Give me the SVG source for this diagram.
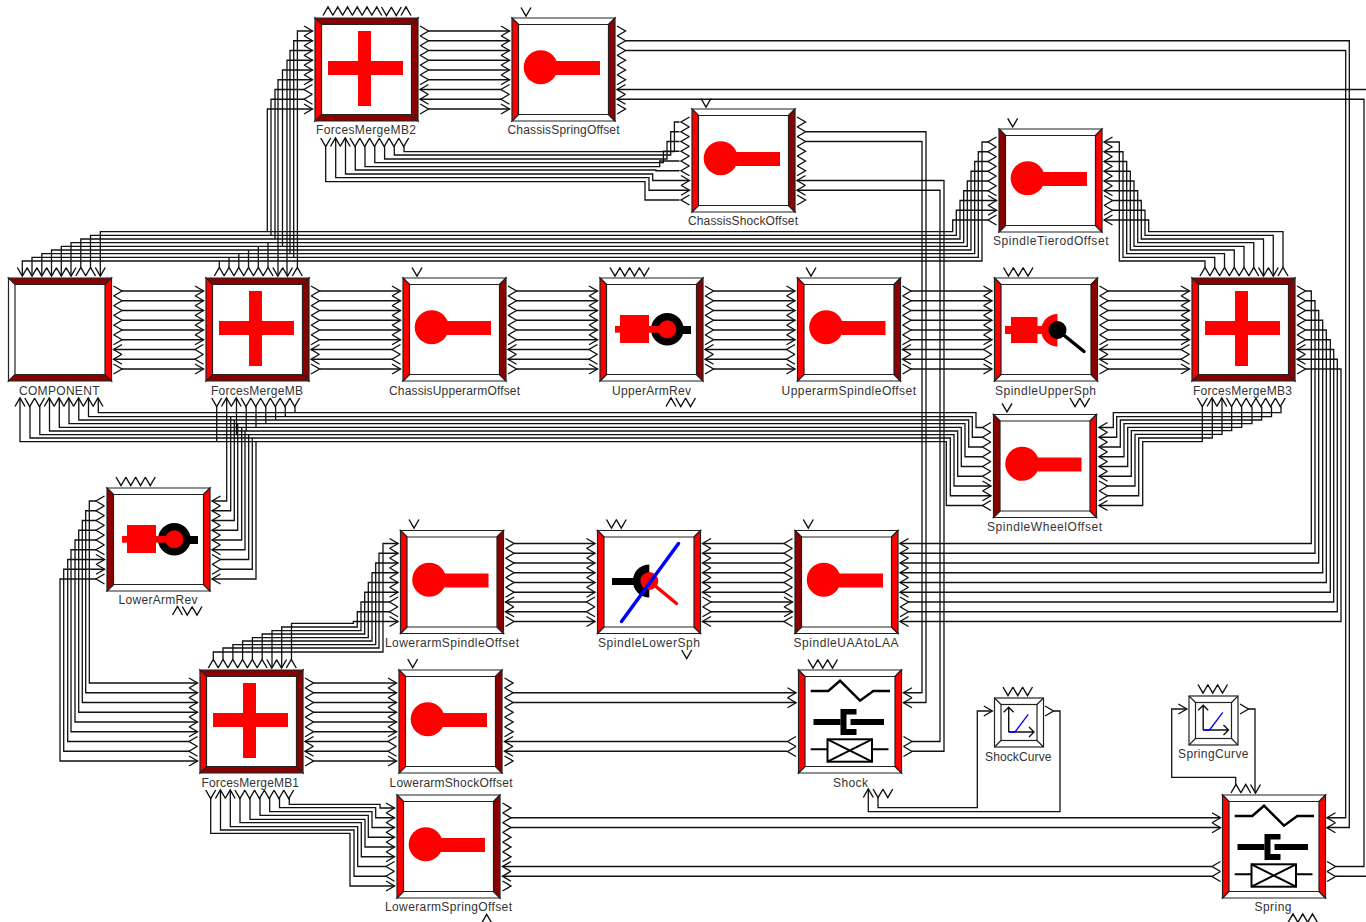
<svg xmlns="http://www.w3.org/2000/svg" xmlns:xlink="http://www.w3.org/1999/xlink" width="1366" height="922" viewBox="0 0 1366 922">
<style>
.w{fill:none;stroke:#111;stroke-width:1.3}
.c{fill:none;stroke:#111;stroke-width:1.4}
.o{stroke:#222;stroke-width:1.2;stroke-linejoin:miter}
.t{font-family:"Liberation Sans",Arial,sans-serif;font-size:12px;fill:#333}
.r{fill:#f00}
.k{fill:#000}
</style>
<defs>
<polygon id="bT" class="o" points="0,0 103,0 96.5,6.5 6.5,6.5"/>
<polygon id="bB" class="o" points="0,103 103,103 96.5,96.5 6.5,96.5"/>
<polygon id="bL" class="o" points="0,0 6.5,6.5 6.5,96.5 0,103"/>
<polygon id="bR" class="o" points="103,0 96.5,6.5 96.5,96.5 103,103"/>
<g id="F1"><rect width="103" height="103" fill="#fff"/><use href="#bT" fill="#8b0000"/><use href="#bB" fill="#8b0000"/><use href="#bL" fill="#f00"/><use href="#bR" fill="#8b0000"/></g>
<g id="F2"><rect width="103" height="103" fill="#fff"/><use href="#bT" fill="#8b0000"/><use href="#bB" fill="#8b0000"/><use href="#bL" fill="#fff"/><use href="#bR" fill="#f00"/></g>
<g id="O1"><rect width="103" height="103" fill="#fff"/><use href="#bT" fill="#fff"/><use href="#bB" fill="#fff"/><use href="#bL" fill="#f00"/><use href="#bR" fill="#8b0000"/></g>
<g id="O2"><rect width="103" height="103" fill="#fff"/><use href="#bT" fill="#fff"/><use href="#bB" fill="#fff"/><use href="#bL" fill="#8b0000"/><use href="#bR" fill="#f00"/></g>
<g id="O3"><rect width="103" height="103" fill="#fff"/><use href="#bT" fill="#fff"/><use href="#bB" fill="#fff"/><use href="#bL" fill="#f00"/><use href="#bR" fill="#f00"/></g>
<g id="S1"><rect width="49" height="49" fill="#fff" class="o"/><rect x="6.5" y="6.5" width="36" height="36" fill="#fff" class="o"/><path class="o" d="M0 0 6.5 6.5M49 0 42.5 6.5M0 49 6.5 42.5M49 49 42.5 42.5"/></g>
<path id="cA" class="c" d="M0-5 8.5 0 0 5M0 4.75 8.5 9.75 0 14.75M0 14.5 8.5 19.5 0 24.5M0 24.25 8.5 29.25 0 34.25M0 34 8.5 39 0 44M0 43.75 8.5 48.75 0 53.75M8.5 53.5 0 58.5 8.5 63.5M8.5 63.25 0 68.25 8.5 73.25M0 73 8.5 78 0 83"/>
<path id="cB" class="c" d="M8.5-5 0 0 8.5 5M8.5 4.75 0 9.75 8.5 14.75M8.5 14.5 0 19.5 8.5 24.5M8.5 24.25 0 29.25 8.5 34.25M8.5 34 0 39 8.5 44M8.5 43.75 0 48.75 8.5 53.75M0 53.5 8.5 58.5 0 63.5M0 63.25 8.5 68.25 0 73.25M8.5 73 0 78 8.5 83"/>
<path id="tA" class="c" d="M-5 8.5 0 0 5 8.5M4.75 8.5 9.75 0 14.75 8.5M14.5 8.5 19.5 0 24.5 8.5M24.25 8.5 29.25 0 34.25 8.5M34 8.5 39 0 44 8.5M43.75 8.5 48.75 0 53.75 8.5M53.5 0 58.5 8.5 63.5 0M63.25 0 68.25 8.5 73.25 0M73 8.5 78 0 83 8.5"/>
<path id="tB" class="c" d="M-5 0 0 8.5 5 0M4.75 0 9.75 8.5 14.75 0M14.5 0 19.5 8.5 24.5 0M24.25 0 29.25 8.5 34.25 0M34 0 39 8.5 44 0M43.75 0 48.75 8.5 53.75 0M53.5 8.5 58.5 0 63.5 8.5M63.25 8.5 68.25 0 73.25 8.5M73 0 78 8.5 83 0"/>
<path id="bA" class="c" d="M-5 0 0 8.5 5 0M4.75 8.5 9.75 0 14.75 8.5M14.5 8.5 19.5 0 24.5 8.5M24.25 0 29.25 8.5 34.25 0M34 0 39 8.5 44 0M43.75 0 48.75 8.5 53.75 0M53.5 0 58.5 8.5 63.5 0M63.25 0 68.25 8.5 73.25 0M73 0 78 8.5 83 0"/>
<path id="bC" class="c" d="M-5 8.5 0 0 5 8.5M4.75 0 9.75 8.5 14.75 0M14.5 0 19.5 8.5 24.5 0M24.25 8.5 29.25 0 34.25 8.5M34 8.5 39 0 44 8.5M43.75 8.5 48.75 0 53.75 8.5M53.5 8.5 58.5 0 63.5 8.5M63.25 8.5 68.25 0 73.25 8.5M73 8.5 78 0 83 8.5"/>
<path id="v1" class="c" d="M-5 0 0 8.5 5 0"/>
<path id="u1" class="c" d="M-5 8.5 0 0 5 8.5"/>
<path id="v2" class="c" d="M-5 0 0 8.5 5 0M4.75 0 9.75 8.5 14.75 0"/>
<path id="v3" class="c" d="M-5 0 0 8.5 5 0M4.75 0 9.75 8.5 14.75 0M14.5 0 19.5 8.5 24.5 0"/>
<path id="v4" class="c" d="M-5 0 0 8.5 5 0M4.75 0 9.75 8.5 14.75 0M14.5 0 19.5 8.5 24.5 0M24.25 0 29.25 8.5 34.25 0"/>
<path id="uvv" class="c" d="M-5 8.5 0 0 5 8.5M4.75 0 9.75 8.5 14.75 0M14.5 0 19.5 8.5 24.5 0"/>
<path id="uuv" class="c" d="M-5 8.5 0 0 5 8.5M4.75 8.5 9.75 0 14.75 8.5M14.5 0 19.5 8.5 24.5 0"/>
<path id="uuu" class="c" d="M-5 8.5 0 0 5 8.5M4.75 8.5 9.75 0 14.75 8.5M14.5 8.5 19.5 0 24.5 8.5"/>
<path id="rg" class="c" d="M0-5 8.5 0 0 5"/>
<path id="r2" class="c" d="M0-5 8.5 0 0 5M0 5 8.5 10 0 15"/>
<path id="l2" class="c" d="M8.5-5 0 0 8.5 5M8.5 5 0 10 8.5 15"/>
<g id="ioff"><circle class="r" cx="28.7" cy="49.3" r="17"/><rect class="r" x="44" y="43" width="44" height="14"/></g>
<g id="iplus"><rect class="r" x="13" y="43" width="75" height="14"/><rect class="r" x="43" y="13" width="13" height="75"/></g>
<g id="irev"><circle class="k" cx="67.3" cy="51.3" r="16.3"/><rect class="k" x="67" y="48" width="24" height="8"/><rect class="r" x="15" y="48" width="50" height="6.7"/><rect class="r" x="20" y="37" width="29" height="28"/><circle class="r" cx="67.3" cy="51.3" r="9"/></g>
<g id="iusph"><rect class="r" x="10.5" y="48" width="40" height="8"/><rect class="r" x="16.5" y="39" width="26.5" height="26"/><path class="r" d="M63 36a16.3 16.3 0 0 0 0 32.6z"/><line x1="63" y1="52" x2="89.5" y2="73.5" stroke="#000" stroke-width="3.5" stroke-linecap="round"/><circle class="k" cx="63" cy="52" r="9"/></g>
<g id="ilsph"><rect class="k" x="14.5" y="47.5" width="30" height="7"/><path class="k" d="M51.8 34a16.5 16.5 0 0 0 0 33z"/><circle class="r" cx="51.8" cy="50.5" r="9"/><line x1="51.8" y1="50.5" x2="79" y2="73" stroke="#f00" stroke-width="3.5" stroke-linecap="round"/><line x1="24" y1="91" x2="81" y2="13" stroke="#00f" stroke-width="3.5" stroke-linecap="round"/></g>
<g id="ispr"><path fill="none" stroke="#000" stroke-width="2.5" d="M12.2 21H29.8L41.5 10.7 61.5 30.7 74.8 21H91.5"/><rect class="k" x="15" y="49" width="27" height="6"/><path class="k" d="M42 39H58V44.5H48V59H58V65H42z"/><rect class="k" x="52" y="49" width="33.5" height="6"/><rect x="29" y="69.3" width="44.5" height="22.4" fill="#fff" stroke="#000" stroke-width="2"/><path fill="none" stroke="#000" stroke-width="2" d="M29 69.3 73.5 91.7M29 91.7 73.5 69.3M12.2 79.3H29M73.5 79.3H90"/></g>
<g id="icrv"><path class="c" d="M14.2 34V9.3M9.2 14.3 14.2 9.3 19.2 14.3M14.2 34H39.5M34.5 29 39.5 34 34.5 39"/><path fill="none" stroke="#00f" stroke-width="1.3" d="M14.2 34H20.5L33.8 16.3"/></g>
</defs>

<g id="connectors">
<path class="w" id="b-mb2-css" d="M428.5 31H509.5M428.5 40.75H509.5M428.5 50.5H509.5M428.5 60.25H509.5M428.5 70H509.5M428.5 79.75H509.5M420 89.5H501M420 99.25H501M428.5 109H509.5"/>
<path class="w" id="b-comp-mb" d="M122 291H203.5M122 300.75H203.5M122 310.5H203.5M122 320.25H203.5M122 330H203.5M122 339.75H203.5M113.5 349.5H195M113.5 359.25H195M122 369H203.5"/>
<path class="w" id="b-mb-cu" d="M319.5 291H400.5M319.5 300.75H400.5M319.5 310.5H400.5M319.5 320.25H400.5M319.5 330H400.5M319.5 339.75H400.5M311 349.5H392M311 359.25H392M319.5 369H400.5"/>
<path class="w" id="b-cu-ua" d="M516.5 291H597.5M516.5 300.75H597.5M516.5 310.5H597.5M516.5 320.25H597.5M516.5 330H597.5M516.5 339.75H597.5M508 349.5H589M508 359.25H589M516.5 369H597.5"/>
<path class="w" id="b-ua-us" d="M713.5 291H795M713.5 300.75H795M713.5 310.5H795M713.5 320.25H795M713.5 330H795M713.5 339.75H795M705 349.5H786.5M705 359.25H786.5M713.5 369H795"/>
<path class="w" id="b-us-sph" d="M911 291H992M911 300.75H992M911 310.5H992M911 320.25H992M911 330H992M911 339.75H992M902.5 349.5H983.5M902.5 359.25H983.5M911 369H992"/>
<path class="w" id="b-sph-mb3" d="M1108 291H1189.5M1108 300.75H1189.5M1108 310.5H1189.5M1108 320.25H1189.5M1108 330H1189.5M1108 339.75H1189.5M1099.5 349.5H1181M1099.5 359.25H1181M1108 369H1189.5"/>
<path class="w" id="b-lso-lsph" d="M514 543.5H595M514 553.25H595M514 563H595M514 572.75H595M514 582.5H595M514 592.25H595M505.5 602H586.5M505.5 611.75H586.5M514 621.5H595"/>
<path class="w" id="b-lsph-uaa" d="M702.5 543.5H784M702.5 553.25H784M702.5 563H784M702.5 572.75H784M702.5 582.5H784M702.5 592.25H784M711 602H792.5M711 611.75H792.5M702.5 621.5H784"/>
<path class="w" id="b-mb1-ls" d="M313.5 683H396.5M313.5 692.75H396.5M313.5 702.5H396.5M313.5 712.25H396.5M313.5 722H396.5M313.5 731.75H396.5M305 741.5H388M305 751.25H388M313.5 761H396.5"/>
<path class="w" id="b-tie-comp" d="M988 142H982V261H22.3V276M988 151.75H978.3V257.3H32V276M988 161.5H974.7V253.6H41.8V276M988 171.25H971V250H51.5V276M988 181H967.3V246.3H61.3V276M988 190.75H963.7V242.7H71V276M996.5 200.5H960V239H80.8V267M996.5 210.25H956.3V235.3H90.5V267M988 220H952.7V231.7H100.3V276"/>
<path class="w" id="b-mbtop" d="M219.3 267V261M229 267V257.3M238.8 267V253.6M248.5 267V250M258.3 267V246.3M268 267V242.7"/>
<path class="w" id="b-mb2-left" d="M312.5 31H297.4V267M312.5 40.75H293.7V257.3M312.5 50.5H290V253.6M312.5 60.25H287V276M312.5 70H282.5V246.3M312.5 79.75H278V276M304 89.5H275V239M304 99.25H271V235.3M312.5 109H267.3V231.7"/>
<path class="w" id="b-tie-mb3" d="M1104 142H1119.3V261H1205V267M1104 151.75H1123V257.3H1214.75V267M1104 161.5H1126.7V253.6H1224.5V267M1104 171.25H1130.3V250H1234.25V267M1104 181H1134V246.3H1244V267M1104 190.75H1137.7V242.7H1253.75V267M1112.5 200.5H1141.3V239H1263.5V276M1112.5 210.25H1145V235.3H1273.25V276M1104 220H1148.7V231.7H1283V267"/>
<path class="w" id="b-comp-wheel" d="M982.5 427.5H976V412.7H98.3V398M982.5 437.25H972.3V416.7H88.5V398M982.5 447H968.7V420H78.8V398M982.5 456.75H965V423.7H69V398M982.5 466.5H961.3V427.3H59.3V398M982.5 476.25H957.7V431H49.5V398M991 486H954V434.7H39.8V406.5M991 495.75H950.3V438H30V406.5M982.5 505.5H946.3V441.7H20V398"/>
<path class="w" id="b-mbbot" d="M295 406.5V412.7M285.3 406.5V416.7M275.6 406.5V420M265.8 406.5V423.7M256 406.5V427.3M246.2 406.5V431M236.5 398V434.7M226.7 398V501H212M216.7 406.5V441.7"/>
<path class="w" id="b-lar-right" d="M212 510.75H230.7V416.7M212 520.5H234.3V420M212 530.25H237.7V423.7M212 540H241.7V427.3M212 549.75H245V431M220.5 559.5H248.7V434.7M220.5 569.25H252.3V438M212 579H256V441.7"/>
<path class="w" id="b-lar-left" d="M96 501H89.3V683H197.5M96 510.75H85.7V692.75H197.5M96 520.5H82.3V702.5H197.5M96 530.25H78.7V712.25H197.5M96 540H75V722H197.5M96 549.75H71V731.75H197.5M104.5 559.5H67.7V741.5H189M104.5 569.25H63.7V751.25H189M96 579H60V761H197.5"/>
<path class="w" id="b-mb1-lso" d="M398 543.5H383V652H213.3V659M398 553.25H379V648H223V659M398 563H375.7V644.7H232.9V659M398 572.75H372V641H242.6V659M398 582.5H368.3V637.7H252.4V659M398 592.25H364.7V634H262.2V659M389.5 602H361V630.7H272V668M389.5 611.75H357.3V627H281.7V668M398 621.5H353.3V623.3H291.5V659"/>
<path class="w" id="b-mb3-uaa" d="M1305.5 291H1311.3V543.5H900M1305.5 300.75H1315V553.25H900M1305.5 310.5H1318.7V563H900M1305.5 320.25H1322.7V572.75H900M1305.5 330H1326.3V582.5H900M1305.5 339.75H1330.3V592.25H900M1297 349.5H1333.7V602H908.5M1297 359.25H1337.3V611.75H908.5M1305.5 369H1341V621.5H900"/>
<path class="w" id="b-mb3-wheel" d="M1099 427.5H1113.3V412.7H1281V406.5M1099 437.25H1116.7V416.7H1271.5V406.5M1099 447H1120.3V420H1261.7V406.5M1099 456.75H1124V423.7H1252V406.5M1099 466.5H1127.7V427.3H1241.7V406.5M1099 476.25H1131.3V430.7H1231.7V406.5M1107 486H1135V434.3H1222V398M1107 495.75H1138.7V438H1212.3V398M1099 505.5H1142.7V441.7H1202.3V406.5"/>
<path class="w" id="b-mb2-shock" d="M404 146.5V151.7H674.4V122H679.5M394.3 146.5V155H670.7V131.75H679.5M384.6 146.5V159H667V141.5H679.5M374.8 146.5V162.7H663.4V151.25H679.5M365 146.5V166.7H659.7V161H679.5M355.3 146.5V170H656V170.75H679.5M345.5 138V174H652.7V180.5H688.5M335.7 138V177.7H649V190.25H688.5M325.7 146.5V181.7H645V200H679.5"/>
<path class="w" id="b-mb1-spring" d="M289.3 798V804.3H380V808H394.5M279.5 798V807.7H375.7V817.75H394.5M269.7 798V811.7H372V827.5H394.5M260 798V815.3H368.3V837.25H394.5M250 798V819.3H365V847H394.5M240 798V822.7H361.3V856.75H394.5M230.3 790V826.7H357.7V866.5H386M220.5 790V830H354V876.25H386M210.7 798V833.3H350V886H394.5"/>
<path class="w" id="b-lsh-shock" d="M512.5 692.75H796M512.5 702.5H796M504.5 741.5H787M504.5 751.25H787"/>
<path class="w" id="b-lsp-spring" d="M510.5 817.75H1220M510.5 827.5H1220M502.5 866.5H1212M502.5 876.25H1212"/>
<path class="w" id="b-cs-shock" d="M805.5 131.75H926V702.5H903.5M805.5 141.5H922V692.75H903.5M797 180.5H944V751.25H912M797 190.25H940V741.5H912"/>
<path class="w" id="b-css-spring" d="M625.5 40.75H1349.3V827.5H1327.5M625.5 50.5H1345.7V817.75H1327.5M617 89.5H1368V876.25H1335.5M617 99.25H1364V866.5H1335.5"/>
<path class="w" id="b-shockcurve" d="M868.3 789V811.7H1060V711H1053.5M878 797.5V807.7H977.3V711H992.3"/>
<path class="w" id="b-springcurve" d="M1186.7 709H1171.7V777.3H1235.7V784.5M1248.3 709H1255V793"/>
</g>

<g id="ForcesMergeMB2"><use href="#F1" x="315" y="18"/><use href="#iplus" x="315" y="18"/><text class="t" x="316" y="134" textLength="100">ForcesMergeMB2</text><use href="#tA" x="328" y="7"/><use href="#cA" x="304" y="31"/><use href="#cA" x="420" y="31"/><use href="#bA" x="325.7" y="138"/></g>
<g id="ChassisSpringOffset"><use href="#O1" x="512" y="18"/><use href="#ioff" x="512" y="18"/><text class="t" x="507.5" y="134" textLength="112">ChassisSpringOffset</text><use href="#v1" x="526" y="7.5"/><use href="#cA" x="501" y="31"/><use href="#cA" x="617" y="31"/></g>
<g id="ChassisShockOffset"><use href="#O1" x="692" y="109"/><use href="#ioff" x="692" y="109"/><text class="t" x="688" y="225" textLength="110">ChassisShockOffset</text><use href="#v1" x="706" y="98.5"/><use href="#cB" x="681" y="122"/><use href="#cA" x="797" y="122"/></g>
<g id="SpindleTierodOffset"><use href="#O2" x="999" y="129"/><use href="#ioff" x="999" y="129"/><text class="t" x="993" y="245" textLength="115.5">SpindleTierodOffset</text><use href="#v1" x="1012.7" y="118.3"/><use href="#cB" x="988" y="142"/><use href="#cB" x="1104" y="142"/></g>
<g id="COMPONENT"><use href="#F2" x="8.5" y="278"/><text class="t" x="19" y="395" textLength="80.5">COMPONENT</text><use href="#tB" x="22.3" y="267.5"/><use href="#cA" x="113.5" y="291"/><use href="#bC" x="20" y="398"/></g>
<g id="ForcesMergeMB"><use href="#F1" x="206" y="278"/><use href="#iplus" x="206" y="278"/><text class="t" x="211" y="395" textLength="92">ForcesMergeMB</text><use href="#tA" x="219.3" y="267.5"/><use href="#cA" x="195" y="291"/><use href="#cA" x="311" y="291"/><use href="#bA" x="216.7" y="398"/></g>
<g id="ChassisUpperarmOffset"><use href="#O1" x="403" y="278"/><use href="#ioff" x="403" y="278"/><text class="t" x="389" y="395" textLength="131">ChassisUpperarmOffset</text><use href="#v1" x="417" y="267.5"/><use href="#cA" x="392" y="291"/><use href="#cA" x="508" y="291"/></g>
<g id="UpperArmRev"><use href="#O1" x="600" y="278"/><use href="#irev" x="600" y="278"/><text class="t" x="612" y="395" textLength="79">UpperArmRev</text><use href="#v4" x="615" y="267.5"/><use href="#cA" x="589" y="291"/><use href="#cA" x="705" y="291"/><use href="#uvv" x="671" y="398"/></g>
<g id="UpperarmSpindleOffset"><use href="#O1" x="797.5" y="278"/><use href="#ioff" x="797.5" y="278"/><text class="t" x="781.5" y="395" textLength="134.5">UpperarmSpindleOffset</text><use href="#v1" x="811" y="267.5"/><use href="#cA" x="786.5" y="291"/><use href="#cA" x="902.5" y="291"/></g>
<g id="SpindleUpperSph"><use href="#O1" x="994.5" y="278"/><use href="#iusph" x="994.5" y="278"/><text class="t" x="995" y="395" textLength="101">SpindleUpperSph</text><use href="#v3" x="1008.5" y="267.5"/><use href="#cA" x="983.5" y="291"/><use href="#cA" x="1099.5" y="291"/><use href="#v2" x="1075" y="398"/></g>
<g id="ForcesMergeMB3"><use href="#F1" x="1192" y="278"/><use href="#iplus" x="1192" y="278"/><text class="t" x="1193" y="395" textLength="99">ForcesMergeMB3</text><use href="#tA" x="1205" y="267.5"/><use href="#cA" x="1181" y="291"/><use href="#cA" x="1297" y="291"/><use href="#bA" x="1202.3" y="398"/></g>
<g id="SpindleWheelOffset"><use href="#O2" x="993.5" y="414.5"/><use href="#ioff" x="993.5" y="414.5"/><text class="t" x="987" y="531" textLength="115">SpindleWheelOffset</text><use href="#v1" x="1007" y="403.3"/><use href="#cB" x="982.5" y="427.5"/><use href="#cB" x="1099" y="427.5"/></g>
<g id="LowerArmRev"><use href="#O2" x="107" y="488"/><use href="#irev" x="107" y="488"/><text class="t" x="118.5" y="604" textLength="79">LowerArmRev</text><use href="#v4" x="121" y="477"/><use href="#cB" x="96" y="501"/><use href="#cB" x="212" y="501"/><use href="#uvv" x="177.5" y="606.5"/></g>
<g id="LowerarmSpindleOffset"><use href="#O1" x="400.5" y="530.5"/><use href="#ioff" x="400.5" y="530.5"/><text class="t" x="385" y="647" textLength="134">LowerarmSpindleOffset</text><use href="#v1" x="414" y="519.5"/><use href="#cA" x="389.5" y="543.5"/><use href="#cA" x="505.5" y="543.5"/></g>
<g id="SpindleLowerSph"><use href="#O3" x="597.5" y="530.5"/><use href="#ilsph" x="597.5" y="530.5"/><text class="t" x="598" y="647" textLength="102">SpindleLowerSph</text><use href="#v2" x="611.5" y="519.5"/><use href="#cA" x="586.5" y="543.5"/><use href="#cB" x="702.5" y="543.5"/><use href="#v1" x="686.7" y="650"/></g>
<g id="SpindleUAAtoLAA"><use href="#O2" x="795" y="530.5"/><use href="#ioff" x="795" y="530.5"/><text class="t" x="793.5" y="647" textLength="105">SpindleUAAtoLAA</text><use href="#v1" x="808.3" y="519.5"/><use href="#cB" x="784" y="543.5"/><use href="#cB" x="900" y="543.5"/></g>
<g id="ForcesMergeMB1"><use href="#F1" x="200" y="670"/><use href="#iplus" x="200" y="670"/><text class="t" x="201.5" y="787" textLength="97.5">ForcesMergeMB1</text><use href="#tA" x="213.3" y="659.5"/><use href="#cA" x="189" y="683"/><use href="#cA" x="305" y="683"/><use href="#bA" x="210.7" y="790"/></g>
<g id="LowerarmShockOffset"><use href="#O1" x="399" y="670"/><use href="#ioff" x="399" y="670"/><text class="t" x="389.5" y="787" textLength="123">LowerarmShockOffset</text><use href="#v1" x="412.7" y="659"/><use href="#cA" x="388" y="683"/><use href="#cA" x="504.5" y="683"/></g>
<g id="LowerarmSpringOffset"><use href="#O1" x="397" y="795"/><use href="#ioff" x="397" y="795"/><text class="t" x="385" y="911" textLength="127">LowerarmSpringOffset</text><use href="#cA" x="386" y="808"/><use href="#cA" x="502.5" y="808"/><use href="#u1" x="486.7" y="914.5"/></g>
<g id="Shock"><use href="#O3" x="798.5" y="670"/><use href="#ispr" x="798.5" y="670"/><text class="t" x="833" y="787" textLength="35">Shock</text><use href="#v3" x="813" y="659.5"/><use href="#r2" x="787.5" y="692.75"/><use href="#l2" x="787.5" y="741.5"/><use href="#l2" x="903.5" y="692.75"/><use href="#r2" x="903.5" y="741.5"/><use href="#uvv" x="868.3" y="789"/></g>
<g id="Spring"><use href="#O3" x="1222.5" y="795"/><use href="#ispr" x="1222.5" y="795"/><text class="t" x="1254.5" y="911" textLength="37">Spring</text><use href="#uuv" x="1236" y="784.5"/><use href="#r2" x="1212" y="817.75"/><use href="#l2" x="1212" y="866.5"/><use href="#l2" x="1327" y="817.75"/><use href="#r2" x="1327" y="866.5"/><use href="#uuu" x="1293" y="914"/></g>
<g id="ShockCurve"><use href="#S1" x="994.5" y="698"/><use href="#icrv" x="994.5" y="698"/><text class="t" x="985" y="761" textLength="66.5">ShockCurve</text><use href="#v3" x="1008" y="687"/><use href="#rg" x="983.8" y="711"/><use href="#rg" x="1045" y="711"/></g>
<g id="SpringCurve"><use href="#S1" x="1189" y="696"/><use href="#icrv" x="1189" y="696"/><text class="t" x="1178" y="758" textLength="70.5">SpringCurve</text><use href="#v3" x="1203" y="684.5"/><use href="#rg" x="1178.3" y="709"/><use href="#rg" x="1240" y="709"/></g>
</svg>
